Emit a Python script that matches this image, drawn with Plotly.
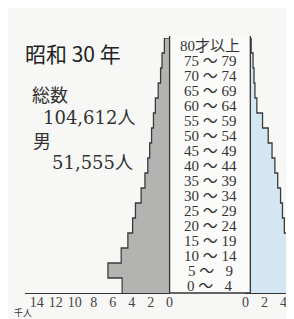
import plotly.graph_objects as go

# ---- data (thousand persons) ----
age_labels = ["0～\u20074", "5～\u20079", "10～14", "15～19", "20～24", "25～29",
              "30～34", "35～39", "40～44", "45～49", "50～54", "55～59",
              "60～64", "65～69", "70～74", "75～79", "80才以上"]
male = [5.0, 6.5, 5.1, 4.4, 3.9, 3.6, 3.0, 2.6, 2.3, 2.1, 1.9, 1.7, 1.5, 1.2, 0.95, 0.8, 0.55]
female = [4.6, 6.6, 4.6, 4.4, 4.1, 3.9, 3.7, 3.4, 3.1, 2.8, 2.4, 1.8, 1.2, 1.0, 0.9, 0.8, 0.6]
left_ticks = [0, 2, 4, 6, 8, 10, 12, 14]
right_ticks = [0, 2, 4, 6]
title_text = "昭和 30 年"
total_label = "総数"
total_value = "104,612人"
male_label = "男"
male_value = "51,555人"
unit_label = "千人"

W, H = 294, 319
TOP, BOT = 30, 285          # plot area in pixels
PXU = 9.75                  # pixels per unit
L0, L1 = 13, 162            # left panel pixel extent (zero at right)
R0 = 240                    # right panel zero pixel


def px(x):
    return x / W


def py(y):
    return (BOT - y) / (BOT - TOP)


ys = list(range(len(age_labels)))


def step(vals):
    xs, yy = [], []
    for i, v in enumerate(vals):
        xs += [v, v]
        yy += [i - 0.5, i + 0.5]
    xs.append(0)
    yy.append(len(vals) - 0.5)
    return xs, yy


fig = go.Figure()
fig.add_trace(go.Bar(x=male, y=ys, orientation="h", width=1, xaxis="x", yaxis="y",
                     marker=dict(color="#b3b3b1", line=dict(width=0)), showlegend=False))
fig.add_trace(go.Bar(x=female, y=ys, orientation="h", width=1, xaxis="x2", yaxis="y",
                     marker=dict(color="#d4e6f2", line=dict(width=0)), showlegend=False))
mx, my = step(male)
fx, fy = step(female)
fig.add_trace(go.Scatter(x=mx, y=my, xaxis="x", yaxis="y", mode="lines",
                         line=dict(color="#3a3a3a", width=1.3), showlegend=False, hoverinfo="skip"))
fig.add_trace(go.Scatter(x=fx, y=fy, xaxis="x2", yaxis="y", mode="lines",
                         line=dict(color="#3a3a3a", width=1.3), showlegend=False, hoverinfo="skip"))

tickfont = dict(family="Liberation Serif, DejaVu Serif, serif", size=14, color="#444")
fig.update_layout(
    width=W, height=H,
    margin=dict(l=0, r=0, t=TOP, b=H - BOT),
    paper_bgcolor="#f7f7f5", plot_bgcolor="rgba(0,0,0,0)",
    bargap=0,
    xaxis=dict(domain=[px(L0), px(L1)], range=[(L1 - L0) / PXU, 0], anchor="y",
               tickvals=left_ticks, ticktext=[str(t) for t in left_ticks],
               showgrid=False, zeroline=False, showline=True, linecolor="#333", linewidth=1.3,
               ticks="", ticklabelstandoff=-4, tickfont=tickfont),
    xaxis2=dict(domain=[px(R0), 1], range=[0, (W - R0) / PXU], anchor="y",
                tickvals=right_ticks, ticktext=[str(t) for t in right_ticks],
                showgrid=False, zeroline=False, showline=True, linecolor="#333", linewidth=1.3,
                ticks="", ticklabelstandoff=-4, tickfont=tickfont),
    yaxis=dict(range=[-0.5, len(age_labels) - 0.5], domain=[0, 1], visible=False),
)

# center label column
fig.add_shape(type="rect", xref="paper", yref="paper", x0=px(L1), x1=px(245), y0=0, y1=py(28),
              fillcolor="#fbfbfa", line=dict(width=0), layer="above")
for xx in (L1, 245):
    fig.add_shape(type="line", xref="paper", yref="paper", x0=px(xx), x1=px(xx), y0=0, y1=py(28),
                  line=dict(color="#333", width=1.3), layer="above")
fig.add_shape(type="line", xref="paper", yref="paper", x0=px(L1), x1=px(245), y0=0, y1=0,
              line=dict(color="#333", width=1.3), layer="above")

lab_font = dict(family="Liberation Serif, Noto Sans CJK JP, serif", size=15, color="#333")
for i, lab in enumerate(age_labels):
    fig.add_annotation(x=px(204), y=i, xref="paper", yref="y",
                       text=lab.replace("～", " ～ ") if i < len(age_labels) - 1 else lab,
                       showarrow=False, font=lab_font, xanchor="center", yanchor="middle")

fig.add_annotation(x=px(11), y=py(45), xref="paper", yref="paper", text=title_text, showarrow=False,
                   xanchor="left", yanchor="middle",
                   font=dict(family="Noto Sans CJK JP", size=21, color="#222"))
fig.add_annotation(x=px(19), y=py(86), xref="paper", yref="paper", text=total_label, showarrow=False,
                   xanchor="left", yanchor="middle",
                   font=dict(family="Noto Sans CJK JP", size=18, color="#333"))
fig.add_annotation(x=px(128), y=py(109), xref="paper", yref="paper", text=total_value, showarrow=False,
                   xanchor="right", yanchor="middle",
                   font=dict(family="DejaVu Serif, Noto Sans CJK JP", size=18, color="#333"))
fig.add_annotation(x=px(20), y=py(132), xref="paper", yref="paper", text=male_label, showarrow=False,
                   xanchor="left", yanchor="middle",
                   font=dict(family="Noto Sans CJK JP", size=18, color="#333"))
fig.add_annotation(x=px(126), y=py(154), xref="paper", yref="paper", text=male_value, showarrow=False,
                   xanchor="right", yanchor="middle",
                   font=dict(family="DejaVu Serif, Noto Sans CJK JP", size=18, color="#333"))
fig.add_annotation(x=px(1), y=py(304), xref="paper", yref="paper", text=unit_label, showarrow=False,
                   xanchor="left", yanchor="middle", borderpad=0,
                   font=dict(family="Noto Sans CJK JP", size=9, color="#333"))

fig.write_html("out.html")
